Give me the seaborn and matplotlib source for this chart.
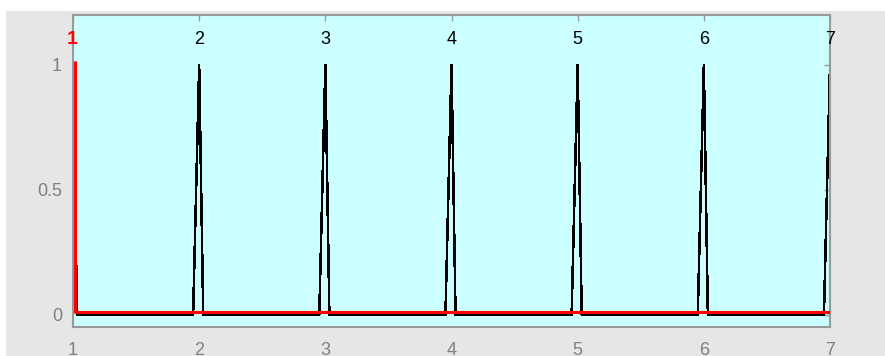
import numpy as np
import pandas as pd
import matplotlib
matplotlib.use("Agg")
import matplotlib.pyplot as plt
import matplotlib.transforms as mtransforms
from matplotlib.patches import Rectangle
import seaborn as sns

# ---- data ----
peaks = [1, 2, 3, 4, 5, 6, 7]
peak_labels = ["1", "2", "3", "4", "5", "6", "7"]
peak_height = 1.0
rise_width = 0.048
fall_width = 0.032
highlight_peak = 1
label_y = 1.1
red_x = [1, 1, 7]
red_y = [1, 0, 0]
x_ticks = [1, 2, 3, 4, 5, 6, 7]
y_ticks = [0, 0.5, 1]
y_tick_labels = ["0", "0.5", "1"]

# build the spike train from the peak positions
bx, by = [], []
for p in peaks:
    bx += [p - rise_width, p, p + fall_width]
    by += [0.0, peak_height, 0.0]
black_df = pd.DataFrame({"x": bx, "y": by})
red_df = pd.DataFrame({"x": red_x, "y": red_y})

sns.set_theme(style="white")
plt.rcParams["font.family"] = ["Liberation Sans", "DejaVu Sans"]

fig = plt.figure(figsize=(8.85, 3.56), dpi=100)
fig.patch.set_facecolor("white")
fig.add_artist(Rectangle((6 / 885, 0), 1, 1 - 11 / 356, transform=fig.transFigure,
                         facecolor="#e6e6e6", edgecolor="none", zorder=-10))

ax = fig.add_axes([73 / 885, 1 - 327 / 356, (830 - 73) / 885, (327 - 15) / 356])
ax.set_facecolor("#ccffff")

sns.lineplot(data=black_df, x="x", y="y", sort=False, estimator=None, color="black",
             linewidth=1.1, ax=ax, antialiased=False, zorder=2)
sns.lineplot(data=red_df, x="x", y="y", sort=False, estimator=None, color="#ff0000",
             linewidth=2.2, ax=ax, zorder=3)
# pixel offset for the red line (screen rendering look)
red_line = ax.lines[-1]
red_line.set_transform(ax.transData + mtransforms.ScaledTranslation(2 / 100, 2.5 / 100, fig.dpi_scale_trans))

for p, lab in zip(peaks, peak_labels):
    if p == highlight_peak:
        ax.text(p - 0.01, label_y, lab, ha="center", va="center", color="#ff0000",
                fontsize=14, fontweight="bold")
    else:
        ax.text(p, label_y, lab, ha="center", va="center", color="black", fontsize=13)

ax.set_xlim(1, 7)
ax.set_ylim(-0.05, 1.2)
ax.set_xticks(x_ticks)
ax.set_xticklabels([str(t) for t in x_ticks])
ax.set_yticks(y_ticks)
ax.set_yticklabels(y_tick_labels)
ax.set_xlabel("")
ax.set_ylabel("")

for s in ax.spines.values():
    s.set_color("#999999")
    s.set_linewidth(1.5)
    s.set_visible(True)

ax.tick_params(direction="in", top=True, right=True, length=4, width=1,
               color="#999999", labelcolor="#808080", labelsize=13)
ax.tick_params(axis="x", pad=11)
ax.tick_params(axis="y", pad=8)

fig.savefig("out.png", dpi=100, facecolor=fig.get_facecolor())
